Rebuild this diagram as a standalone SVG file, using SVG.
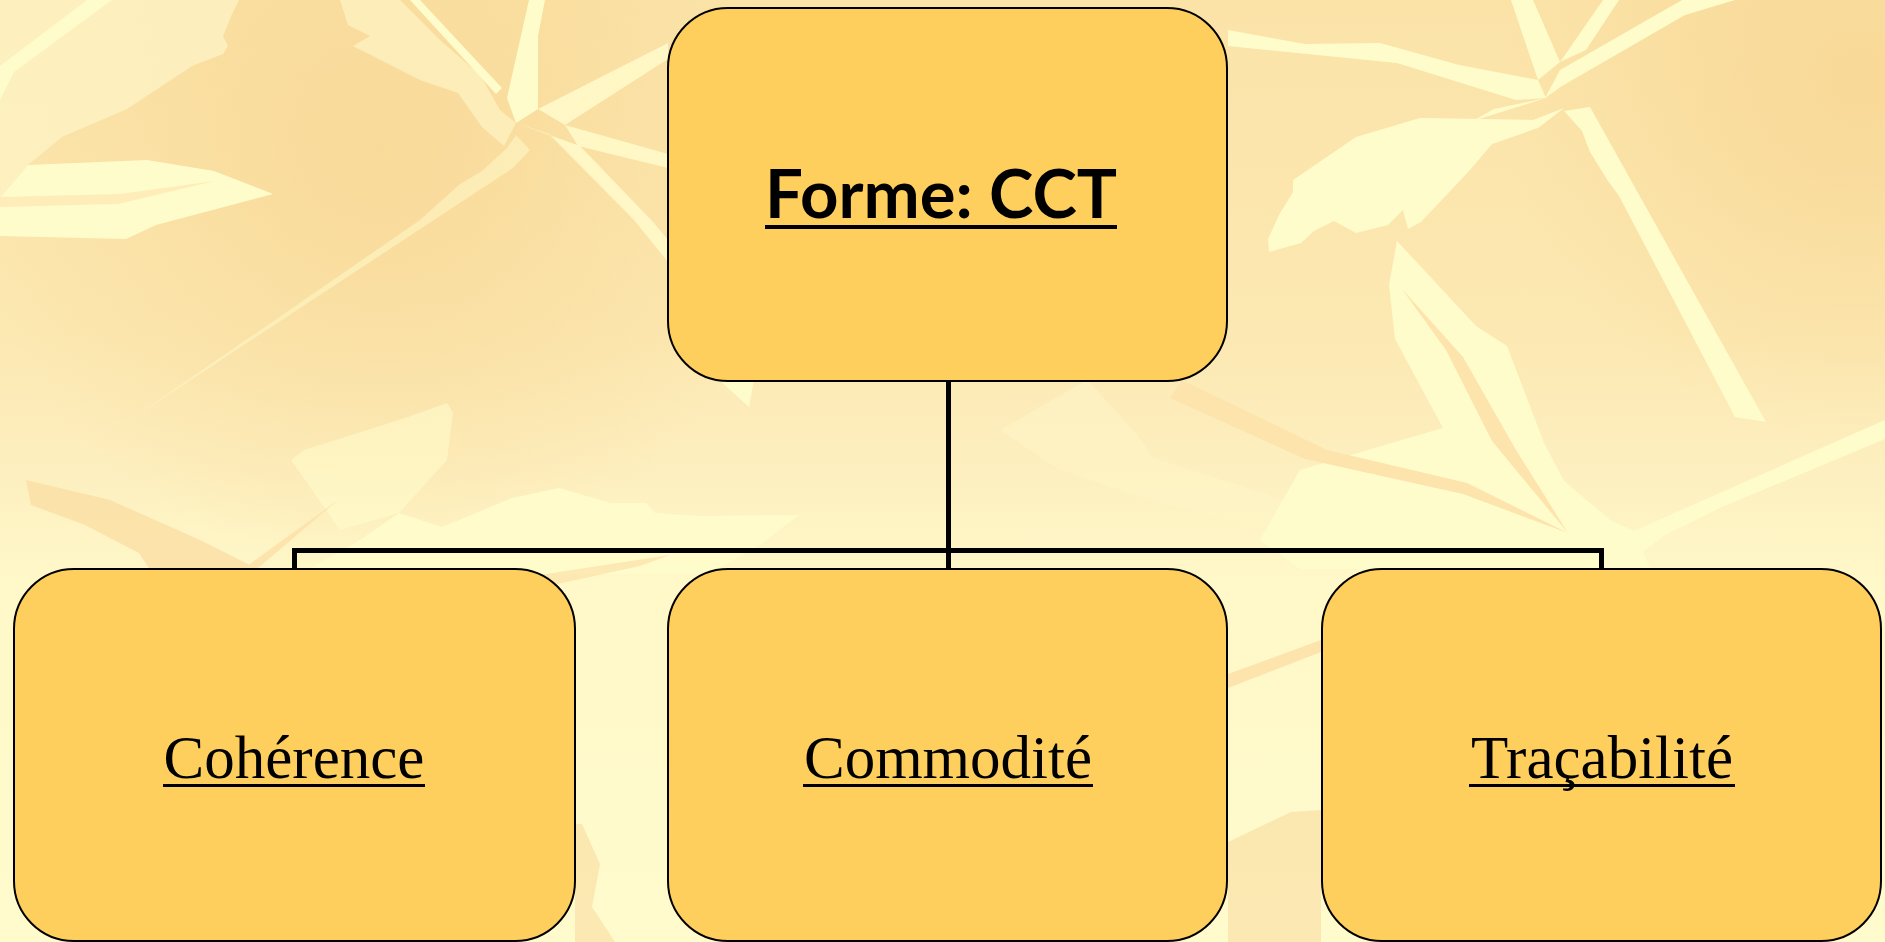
<svg xmlns="http://www.w3.org/2000/svg" width="1885" height="942" viewBox="0 0 1885 942">
<defs>
<linearGradient id="bgGrad" x1="0" y1="0" x2="0" y2="942" gradientUnits="userSpaceOnUse">
<stop offset="0" stop-color="#FBE3A8"/>
<stop offset="0.35" stop-color="#FCE8B2"/>
<stop offset="0.5" stop-color="#FDEFBF"/>
<stop offset="0.62" stop-color="#FFF8C9"/>
<stop offset="1" stop-color="#FFFBCC"/>
</linearGradient>
<radialGradient id="darkL" cx="380" cy="150" r="420" gradientUnits="userSpaceOnUse">
<stop offset="0" stop-color="#F8D896" stop-opacity="0.85"/>
<stop offset="1" stop-color="#F8D896" stop-opacity="0"/>
</radialGradient>
<radialGradient id="darkR" cx="1860" cy="80" r="360" gradientUnits="userSpaceOnUse">
<stop offset="0" stop-color="#F8D896" stop-opacity="0.95"/>
<stop offset="1" stop-color="#F8D896" stop-opacity="0"/>
</radialGradient>
<style>
.node rect{fill:#FFCF5E;stroke:#000;stroke-width:2}
.node .ul{fill:#000;stroke:none}
.lt{fill:#FFFCCB}
.lm{fill:#FEF3C4}
.dk{fill:#F9DCA0}
.og{fill:#FDE3AC}
.lbl{font-family:"Liberation Serif","Times New Roman",serif;font-size:61px;fill:#000}
.ttl{font-family:Lato,"Comic Sans MS","DejaVu Sans",sans-serif;font-weight:bold;font-size:66px;fill:#000}
#connectors path{fill:none;stroke:#000;stroke-width:5}
</style>
</defs>
<g id="background">
<rect x="0" y="0" width="1885" height="942" fill="url(#bgGrad)"/>
<rect x="0" y="0" width="1885" height="942" fill="url(#darkL)"/>
<rect x="0" y="0" width="1885" height="942" fill="url(#darkR)"/>
<polygon class="lm" opacity="0.8" points="0,0 239,0 232,14 223,36 228,46 223,54 192,66 127,109 62,137 28,165 0,198"/>
<polygon class="lt" points="0,66 87,0 112,0 14,72 0,100"/>
<polygon class="lt" points="28,165 147,160 214,171 273,194 156,225 126,239 0,236 0,198"/>
<polygon class="og" opacity="0.6" points="0,197 120,194 215,181 118,204 0,207"/>
<polygon class="lm" opacity="0.7" points="340,0 400,0 440,40 480,75 500,110 516,123 504,146 482,127 458,93 420,80 353,46 370,36 348,25"/>
<polygon class="lt" points="410,0 420,0 502,88 496,94"/>
<polygon class="lt" points="529,0 545,0 538,36 538,109 516,123 507,98"/>
<polygon class="lt" opacity="0.85" points="516,123 549,134 634,220 668,262 668,240 654,223 580,146"/>
<polygon class="lt" opacity="0.85" points="538,109 668,43 668,59 565,125"/>
<polygon class="lt" opacity="0.85" points="565,125 668,154 668,168 578,146"/>
<polygon class="lt" opacity="0.5" points="516,135 507,148 482,171 460,184 420,220 130,420 513,168 530,150"/>
<polygon class="lt" opacity="0.6" points="291,460 304,450 405,418 447,403 453,413 447,460 399,513 340,530"/>
<polygon class="lt" opacity="0.9" points="399,513 442,527 512,498 559,488 611,503 646,503 655,513 700,516 799,515 760,545 709,574 300,574 360,540"/>
<polygon class="dk" opacity="0.7" points="26,480 31,505 85,525 139,553 150,570 260,570 200,540 110,500"/>
<polygon class="og" points="243,569 338,500 250,575"/>
<polygon class="lt" points="719,380 754,380 749,407"/>
<polygon class="og" opacity="0.8" points="520,578 670,555 640,566 530,590"/>
<polygon class="dk" opacity="0.6" points="575,824 582,824 600,864 592,907 615,942 575,942"/>
<polygon class="lt" points="1228,30 1305,44 1380,43 1459,65 1538,80 1546,98 1516,100 1397,63 1228,46"/>
<polygon class="lt" points="1511,0 1533,0 1560,62 1538,80"/>
<polygon class="lt" points="1603,0 1619,0 1586,50 1560,62"/>
<polygon class="lt" points="1682,0 1735,0 1685,15 1562,86 1545,98 1560,70"/>
<polygon class="lt" points="1546,98 1494,109 1424,148 1375,167 1479,119"/>
<polygon class="lt" points="1293,180 1356,137 1420,118 1481,119 1533,120 1564,108 1538,128 1492,144 1470,170 1421,222 1408,229 1403,210 1388,225 1356,233 1334,221 1314,231 1301,243 1269,252 1268,239 1279,215 1293,192"/>
<polygon class="lt" points="1564,111 1590,107 1766,422 1735,417 1619,196 1608,181 1590,152 1582,131"/>
<polygon class="lm" opacity="0.7" points="1087,380 1137,434 1152,457 1247,488 1336,516 1340,527 1256,527 1150,500 1060,470 1000,430"/>
<polygon class="lt" points="1397,241 1476,326 1507,346 1544,443 1564,481 1610,520 1634,531 1885,420 1885,439 1722,507 1665,535 1643,552 1650,569 1300,569 1260,540 1300,470 1443,428 1395,339 1389,285"/>
<polygon class="og" points="1402,289 1463,357 1516,450 1568,533 1492,441 1446,350"/>
<polygon class="og" points="1182,380 1327,450 1467,483 1568,533 1463,494 1305,459 1170,398"/>
<polygon class="og" points="1228,674 1321,640 1321,652 1228,688"/>
<polygon class="dk" opacity="0.6" points="1228,842 1291,812 1321,810 1321,942 1228,942"/>
</g>
<g id="connectors">
<path d="M948.5 381 V550.5"/>
<path d="M294.5 569 V550.5 H1601.5 V569"/>
<path d="M948.5 550.5 V569"/>
</g>
<g id="node-forme" class="node">
<rect x="668" y="8" width="559" height="373" rx="60" ry="60"/>
<text class="ttl" x="941" y="218" text-anchor="middle" textLength="352" lengthAdjust="spacingAndGlyphs">Forme: CCT</text>
<rect class="ul" x="765" y="225" width="352" height="4"/>
</g>
<g id="node-coherence" class="node">
<rect x="14" y="569" width="561" height="372" rx="60" ry="60"/>
<text class="lbl" x="294" y="778" text-anchor="middle">Cohérence</text>
<rect class="ul" x="163" y="784" width="262" height="3"/>
</g>
<g id="node-commodite" class="node">
<rect x="668" y="569" width="559" height="372" rx="60" ry="60"/>
<text class="lbl" x="948" y="778" text-anchor="middle">Commodité</text>
<rect class="ul" x="803" y="784" width="290" height="3"/>
</g>
<g id="node-tracabilite" class="node">
<rect x="1322" y="569" width="559" height="372" rx="60" ry="60"/>
<text class="lbl" x="1602" y="778" text-anchor="middle">Traçabilité</text>
<rect class="ul" x="1469" y="784" width="266" height="3"/>
</g>
</svg>
